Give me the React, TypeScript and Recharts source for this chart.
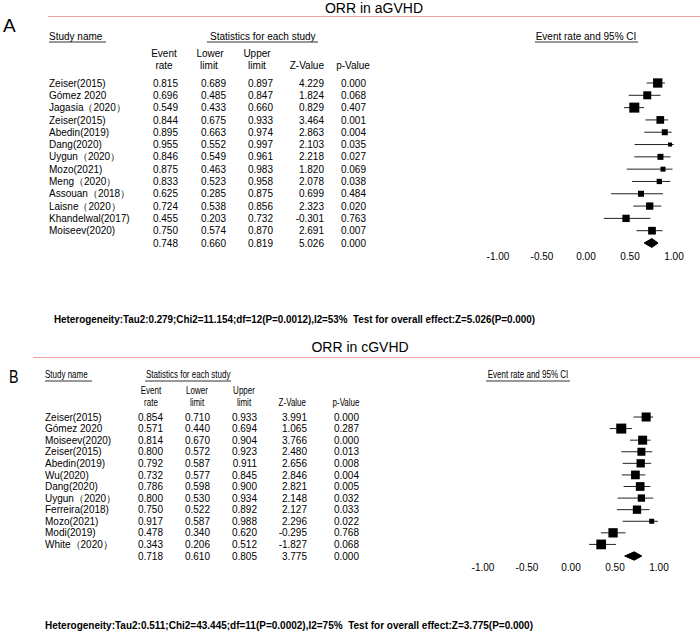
import { Area, ComposedChart, ErrorBar, Scatter, XAxis, YAxis } from 'recharts';

// ---- panel A: ORR in aGVHD ----
const aStudies = [
  'Zeiser(2015)',
  'Gómez 2020',
  'Jagasia（2020）',
  'Zeiser(2015)',
  'Abedin(2019)',
  'Dang(2020)',
  'Uygun（2020）',
  'Mozo(2021)',
  'Meng（2020）',
  'Assouan（2018）',
  'Laisne（2020）',
  'Khandelwal(2017)',
  'Moiseev(2020)',
];
const aRate = [0.815, 0.696, 0.549, 0.844, 0.895, 0.955, 0.846, 0.875, 0.833, 0.625, 0.724, 0.455, 0.75];
const aLower = [0.689, 0.485, 0.433, 0.675, 0.663, 0.552, 0.549, 0.463, 0.523, 0.285, 0.538, 0.203, 0.574];
const aUpper = [0.897, 0.847, 0.66, 0.933, 0.974, 0.997, 0.961, 0.983, 0.958, 0.875, 0.856, 0.732, 0.87];
const aZ = [4.229, 1.824, 0.829, 3.464, 2.863, 2.103, 2.218, 1.82, 2.078, 0.699, 2.323, -0.301, 2.691];
const aP = [0.0, 0.068, 0.407, 0.001, 0.004, 0.035, 0.027, 0.069, 0.038, 0.484, 0.02, 0.763, 0.007];
// relative study weight
const aWeight = [9.3, 8, 10, 7.7, 6, 4, 6, 5, 5.3, 6, 7.3, 7.3, 7.7];
const aSummary = { rate: 0.748, lower: 0.66, upper: 0.819, z: 5.026, p: 0.0 };
const aHeterogeneity =
  'Heterogeneity:Tau2:0.279;Chi2=11.154;df=12(P=0.0012),I2=53%  Test for overall effect:Z=5.026(P=0.000)';

// ---- panel B: ORR in cGVHD ----
const bStudies = [
  'Zeiser(2015)',
  'Gómez 2020',
  'Moiseev(2020)',
  'Zeiser(2015)',
  'Abedin(2019)',
  'Wu(2020)',
  'Dang(2020)',
  'Uygun（2020）',
  'Ferreira(2018)',
  'Mozo(2021)',
  'Modi(2019)',
  'White（2020）',
];
const bRate = [0.854, 0.571, 0.814, 0.8, 0.792, 0.732, 0.786, 0.8, 0.75, 0.917, 0.478, 0.343];
const bLower = [0.71, 0.44, 0.67, 0.572, 0.587, 0.577, 0.598, 0.53, 0.522, 0.587, 0.34, 0.206];
const bUpper = [0.933, 0.694, 0.904, 0.923, 0.911, 0.845, 0.9, 0.934, 0.892, 0.988, 0.62, 0.512];
const bZ = [3.991, 1.065, 3.766, 2.48, 2.656, 2.846, 2.821, 2.148, 2.127, 2.296, -0.295, -1.827];
const bP = [0.0, 0.287, 0.0, 0.013, 0.008, 0.004, 0.005, 0.032, 0.033, 0.022, 0.768, 0.068];
const bWeight = [9, 10, 9, 8, 8.3, 8.7, 8.7, 7.3, 8.3, 5, 9.3, 9.7];
const bSummary = { rate: 0.718, lower: 0.61, upper: 0.805, z: 3.775, p: 0.0 };
const bHeterogeneity =
  'Heterogeneity:Tau2:0.511;Chi2=43.445;df=11(P=0.0002),I2=75%  Test for overall effect:Z=3.775(P=0.000)';

const xTicks = [-1, -0.5, 0, 0.5, 1];

const FONT = "'Liberation Sans', Arial, sans-serif";
const PINK = '#f2a0a0';
const W = 700;
const H = 638;

type Cols = { name: number; rate: number; lower: number; upper: number; z: number; p: number };

type PanelLayout = {
  left: number;
  right: number;
  top: number;
  bottom: number;
  tickDy: number;
  cols: Cols;
};

const A_LAYOUT: PanelLayout = {
  left: 498,
  right: 674,
  top: 83,
  bottom: 243,
  tickDy: 16.5,
  cols: { name: 49, rate: 178, lower: 226, upper: 273, z: 324, p: 366 },
};

const B_LAYOUT: PanelLayout = {
  left: 483,
  right: 659,
  top: 417,
  bottom: 556,
  tickDy: 14.5,
  cols: { name: 45, rate: 163, lower: 210, upper: 257, z: 307, p: 359 },
};

const X_AXIS_HEIGHT = 20;

function buildRows(
  names: string[],
  rate: number[],
  lower: number[],
  upper: number[],
  z: number[],
  p: number[],
  summary: { rate: number; lower: number; upper: number; z: number; p: number },
) {
  const rows = names.map((name, i) => ({
    x: 0,
    y: i,
    name,
    rate: rate[i],
    lower: lower[i],
    upper: upper[i],
    z: z[i],
    p: p[i],
  }));
  rows.push({ x: 0, y: names.length, name: '', ...summary });
  return rows;
}

function ForestPanel({
  names,
  rate,
  lower,
  upper,
  z,
  p,
  weight,
  summary,
  layout,
}: {
  names: string[];
  rate: number[];
  lower: number[];
  upper: number[];
  z: number[];
  p: number[];
  weight: number[];
  summary: { rate: number; lower: number; upper: number; z: number; p: number };
  layout: PanelLayout;
}) {
  const n = names.length;
  const rows = buildRows(names, rate, lower, upper, z, p, summary);
  const studies = names.map((_, i) => ({
    x: rate[i],
    y: i,
    err: [rate[i] - lower[i], upper[i] - rate[i]],
    w: weight[i],
  }));
  // diamond for the pooled estimate, drawn as a range area
  const diamond = [
    { x: summary.lower, band: [n, n] },
    { x: summary.rate, band: [n - 0.36, n + 0.36] },
    { x: summary.upper, band: [n, n] },
  ];
  const { cols } = layout;

  const rowShape = (props: any) => {
    const { cy, payload } = props;
    const t = (x: number, s: string, anchor: 'start' | 'end' = 'end') => (
      <text x={x} y={cy} dy="0.36em" textAnchor={anchor}>
        {s}
      </text>
    );
    return (
      <g fontFamily={FONT} fontSize={10} fill="#000">
        {t(cols.name, payload.name, 'start')}
        {t(cols.rate, payload.rate.toFixed(3))}
        {t(cols.lower, payload.lower.toFixed(3))}
        {t(cols.upper, payload.upper.toFixed(3))}
        {t(cols.z, payload.z.toFixed(3))}
        {t(cols.p, payload.p.toFixed(3))}
      </g>
    );
  };

  const squareShape = (props: any) => {
    const { cx, cy, payload } = props;
    const s = payload.w;
    return <rect x={cx - s / 2} y={cy - s / 2} width={s} height={s} fill="#000" />;
  };

  return (
    <div style={{ position: 'absolute', left: 0, top: 0 }}>
      <ComposedChart
        width={W}
        height={H}
        data={diamond}
        margin={{
          left: layout.left,
          right: W - layout.right,
          top: layout.top,
          bottom: H - layout.bottom - X_AXIS_HEIGHT,
        }}
      >
        <XAxis
          type="number"
          dataKey="x"
          domain={[-1, 1]}
          ticks={xTicks}
          height={X_AXIS_HEIGHT}
          axisLine={false}
          tickLine={false}
          tickSize={0}
          tickMargin={0}
          interval={0}
          tick={(props: any) => (
            <text
              x={props.x}
              y={props.y + layout.tickDy}
              textAnchor="middle"
              fontFamily={FONT}
              fontSize={10}
              fill="#000"
            >
              {Number(props.payload.value).toFixed(2)}
            </text>
          )}
        />
        <YAxis type="number" dataKey="y" domain={[0, n]} reversed hide width={0} />
        <Area
          type="linear"
          dataKey="band"
          stroke="#000"
          strokeWidth={1}
          fill="#000"
          fillOpacity={1}
          dot={false}
          activeDot={false}
          isAnimationActive={false}
        />
        <Scatter data={studies} shape={squareShape} isAnimationActive={false}>
          <ErrorBar dataKey="err" direction="x" width={0} stroke="#222" strokeWidth={1} isAnimationActive={false} />
        </Scatter>
        <Scatter data={rows} shape={rowShape} isAnimationActive={false} />
      </ComposedChart>
    </div>
  );
}

// condensed text for panel B's header (the source used a narrow face)
function Narrow({
  x,
  y,
  children,
  anchor = 'start',
  size = 10,
  sx = 0.8,
}: {
  x: number;
  y: number;
  children: string;
  anchor?: 'start' | 'middle' | 'end';
  size?: number;
  sx?: number;
}) {
  return (
    <text transform={`translate(${x},${y}) scale(${sx},1)`} textAnchor={anchor} fontSize={size}>
      {children}
    </text>
  );
}

function Labels() {
  const under = (x1: number, x2: number, y: number) => (
    <line x1={x1} x2={x2} y1={y} y2={y} stroke="#333" strokeWidth={1} />
  );
  return (
    <svg
      width={W}
      height={H}
      style={{ position: 'absolute', left: 0, top: 0, pointerEvents: 'none' }}
      fontFamily={FONT}
      fill="#000"
    >
      {/* panel A */}
      <text x={3} y={32} fontSize={19}>A</text>
      <text x={374} y={12.5} fontSize={14} textAnchor="middle">ORR in aGVHD</text>
      <line x1={48} x2={700} y1={16.5} y2={16.5} stroke={PINK} strokeWidth={1} />
      <g fontSize={10}>
        <text x={49} y={39.5}>Study name</text>
        {under(49, 106, 42)}
        <text x={210} y={39.5}>Statistics for each study</text>
        {under(207, 318, 42)}
        <text x={586} y={39.5} textAnchor="middle">Event rate and 95% CI</text>
        {under(535, 638, 42)}
        <text x={164} y={57} textAnchor="middle">Event</text>
        <text x={164} y={68.5} textAnchor="middle">rate</text>
        <text x={210} y={57} textAnchor="middle">Lower</text>
        <text x={209} y={68.5} textAnchor="middle">limit</text>
        <text x={257} y={57} textAnchor="middle">Upper</text>
        <text x={257} y={68.5} textAnchor="middle">limit</text>
        <text x={324} y={68.5} textAnchor="end">Z-Value</text>
        <text x={353} y={68.5} textAnchor="middle">p-Value</text>
      </g>
      <text
        x={54}
        y={323}
        fontSize={10}
        fontWeight="bold"
        textLength={481}
        lengthAdjust="spacingAndGlyphs"
        style={{ whiteSpace: 'pre' }}
      >
        {aHeterogeneity}
      </text>

      {/* panel B */}
      <Narrow x={9} y={383} size={19} sx={0.75}>B</Narrow>
      <text x={360} y={352} fontSize={14} textAnchor="middle">ORR in cGVHD</text>
      <line x1={33} x2={700} y1={357.5} y2={357.5} stroke={PINK} strokeWidth={1} />
      <Narrow x={45} y={378}>Study name</Narrow>
      {under(45, 92, 381)}
      <Narrow x={146} y={378}>Statistics for each study</Narrow>
      {under(145, 231, 381)}
      <Narrow x={528} y={378} anchor="middle">Event rate and 95% CI</Narrow>
      {under(486, 570, 381)}
      <Narrow x={151} y={394} anchor="middle">Event</Narrow>
      <Narrow x={151} y={405.5} anchor="middle">rate</Narrow>
      <Narrow x={197} y={394} anchor="middle">Lower</Narrow>
      <Narrow x={197} y={405.5} anchor="middle">limit</Narrow>
      <Narrow x={244} y={394} anchor="middle">Upper</Narrow>
      <Narrow x={244} y={405.5} anchor="middle">limit</Narrow>
      <Narrow x={306} y={405.5} anchor="end">Z-Value</Narrow>
      <Narrow x={346} y={405.5} anchor="middle">p-Value</Narrow>
      <text
        x={45}
        y={628.5}
        fontSize={10}
        fontWeight="bold"
        textLength={488}
        lengthAdjust="spacingAndGlyphs"
        style={{ whiteSpace: 'pre' }}
      >
        {bHeterogeneity}
      </text>
    </svg>
  );
}

export default function App() {
  return (
    <div style={{ position: 'absolute', left: 0, top: 0, width: W, height: H, background: '#fff' }}>
      <ForestPanel
        names={aStudies}
        rate={aRate}
        lower={aLower}
        upper={aUpper}
        z={aZ}
        p={aP}
        weight={aWeight}
        summary={aSummary}
        layout={A_LAYOUT}
      />
      <ForestPanel
        names={bStudies}
        rate={bRate}
        lower={bLower}
        upper={bUpper}
        z={bZ}
        p={bP}
        weight={bWeight}
        summary={bSummary}
        layout={B_LAYOUT}
      />
      <Labels />
    </div>
  );
}
